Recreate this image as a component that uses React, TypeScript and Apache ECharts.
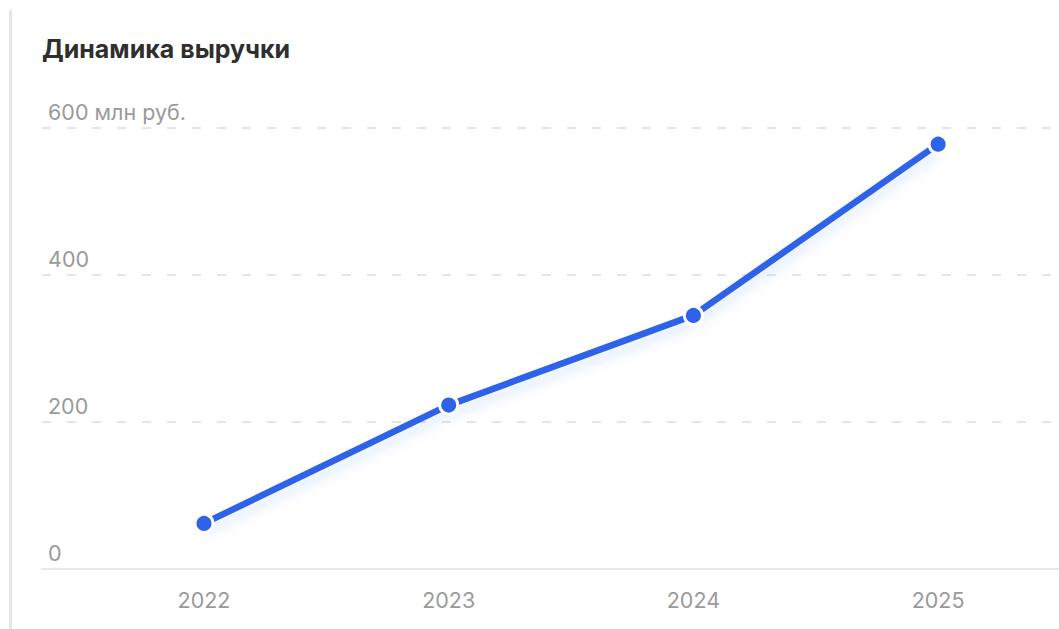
import React, { useEffect, useRef } from "react";
import * as echarts from "echarts";

const titleText = "Динамика выручки";
const categories = ["2022", "2023", "2024", "2025"];
const revenue = [62, 223, 345, 578];
const yTicks = [0, 200, 400, 600];
const yUnit = "млн руб.";

export default function App() {
  const ref = useRef<HTMLDivElement>(null);
  useEffect(() => {
    if (!ref.current) return;
    const chart = echarts.init(ref.current, undefined, { renderer: "svg" });
    const years = categories.map((c) => Number(c));
    const font = "Inter, 'Noto Sans', sans-serif";
    chart.setOption({
      animation: false,
      backgroundColor: "#ffffff",
      title: {
        text: titleText,
        left: 37,
        top: 31,
        textStyle: { fontFamily: font, fontSize: 25, fontWeight: 700, color: "#2f2f2f" },
      },
      graphic: [
        {
          type: "rect",
          shape: { x: 9, y: 10, width: 3, height: 640 },
          style: { fill: "#e6e6e6" },
          silent: true,
        },
      ],
      grid: { left: 42, right: 0, top: 128, bottom: 60 },
      xAxis: {
        type: "value",
        min: 2021.338,
        max: 2025.494,
        splitLine: { show: false },
        axisTick: { show: false },
        axisLine: { show: true, lineStyle: { color: "#e8e8e8", width: 2 } },
        axisLabel: {
          customValues: years,
          formatter: (v: number) => String(v),
          margin: 20,
          fontFamily: font,
          fontSize: 21.5,
          color: "#9a9a9a",
        },
      },
      yAxis: {
        type: "value",
        min: yTicks[0],
        max: yTicks[yTicks.length - 1],
        interval: yTicks[1] - yTicks[0],
        axisLine: { show: false },
        axisTick: { show: false },
        splitLine: {
          show: true,
          lineStyle: { color: "#dddddd", width: 1.5, type: [9, 16] },
        },
        axisLabel: {
          inside: true,
          margin: 6,
          verticalAlign: "bottom",
          padding: [0, 0, 5, 0],
          fontFamily: font,
          fontSize: 21.5,
          color: "#9a9a9a",
          formatter: (v: number) => (v === yTicks[yTicks.length - 1] ? `${v} ${yUnit}` : String(v)),
        },
      },
      series: [
        {
          type: "line",
          data: years.map((y, i) => [y, revenue[i]]),
          symbol: "circle",
          symbolSize: 18,
          lineStyle: {
            color: "#2d63e9",
            width: 6.5,
            shadowColor: "rgba(45,99,233,0.15)",
            shadowBlur: 12,
            shadowOffsetY: 8,
          },
          itemStyle: { color: "#2d63e9", borderColor: "#ffffff", borderWidth: 3 },
          z: 3,
        },
      ],
    });
    return () => chart.dispose();
  }, []);
  return (
    <div
      ref={ref}
      style={{ position: "fixed", left: 0, top: 0, width: 1059, height: 629 }}
    />
  );
}
